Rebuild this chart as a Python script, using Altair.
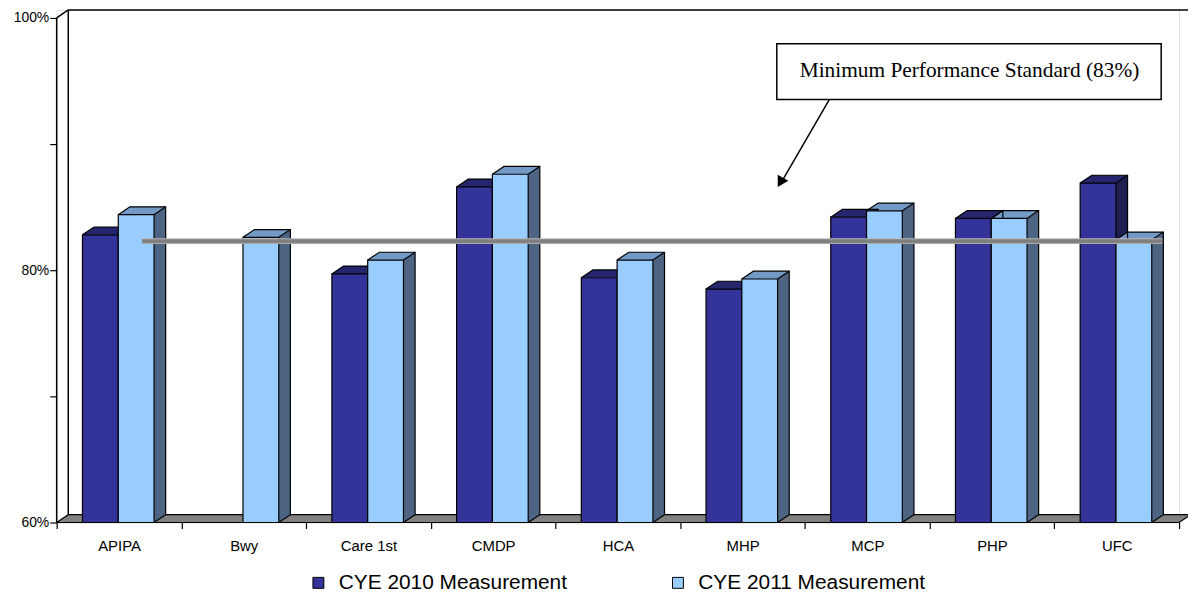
import json
import altair as alt
import pandas as pd

# ---------------- data ----------------
categories = ["APIPA", "Bwy", "Care 1st", "CMDP", "HCA", "MHP", "MCP", "PHP", "UFC"]
series_names = ["CYE 2010 Measurement", "CYE 2011 Measurement"]
cye2010 = [82.8, None, 79.7, 86.6, 79.4, 78.5, 84.2, 84.1, 86.9]
cye2011 = [84.4, 82.6, 80.8, 87.6, 80.8, 79.3, 84.7, 84.1, 82.4]
standard_label = "Minimum Performance Standard (83%)"
standard_level = 82.3
standard_span = [0.685, 8.865]
y_ticks = [60, 70, 80, 90, 100]

# ---------------- layout / style constants ----------------
Y_MIN, Y_MAX = 60, 100
DX, DY = 0.093, 0.62          # 3D depth in category units / percent units
BAR_START, BAR_W = 0.207, 0.287

front_colors = ["#333399", "#99CCFF"]
top_colors = ["#26266F", "#7399C6"]
side_colors = ["#1E1E50", "#4D6482"]

FONT = "Liberation Sans"

# ---------------- geometry tables built from the data ----------------
fronts, sides, tops, outlines = [], [], [], []
for i, c in enumerate(categories):
    for s, vals in enumerate([cye2010, cye2011]):
        v = vals[i]
        if v is None:
            continue
        x0 = i + BAR_START + s * BAR_W
        x1 = x0 + BAR_W
        bid = f"{c}-{s}"
        fronts.append(dict(bar=bid, series=series_names[s], s=s, x0=x0, x1=x1, v=v, base=Y_MIN))
        sides.append(dict(bar=bid, s=s, x=x1, y=v, y2=Y_MIN, k=0))
        sides.append(dict(bar=bid, s=s, x=x1 + DX, y=v + DY, y2=Y_MIN + DY, k=1))
        tops.append(dict(bar=bid, s=s, y=v, x=x0, x2=x1, k=0))
        tops.append(dict(bar=bid, s=s, y=v + DY, x=x0 + DX, x2=x1 + DX, k=1))
        # outer outline of the top and side faces
        path_a = [(x0, v), (x0 + DX, v + DY), (x1 + DX, v + DY),
                  (x1 + DX, Y_MIN + DY), (x1, Y_MIN)]
        path_b = [(x1, v), (x1 + DX, v + DY)]
        for name, path in (("a", path_a), ("b", path_b)):
            for k, (px, py) in enumerate(path):
                outlines.append(dict(path=f"{bid}-{name}", s=s, x=px, y=py, k=k))

fronts = pd.DataFrame(fronts)
sides = pd.DataFrame(sides)
tops = pd.DataFrame(tops)
outlines = pd.DataFrame(outlines)

n = len(categories)
floor = pd.DataFrame([
    dict(y=Y_MIN, x=0, x2=n, k=0),
    dict(y=Y_MIN + DY, x=DX, x2=n + DX, k=1),
])
floor_outline = pd.DataFrame([
    dict(x=0, y=Y_MIN, k=0), dict(x=DX, y=Y_MIN + DY, k=1),
    dict(x=n + DX, y=Y_MIN + DY, k=2), dict(x=n, y=Y_MIN, k=3), dict(x=0, y=Y_MIN, k=4),
])
walls = pd.DataFrame([
    dict(x=0, x2=0, y=Y_MIN, y2=Y_MAX),                       # front-left edge
    dict(x=DX, x2=DX, y=Y_MIN + DY, y2=Y_MAX + DY),           # back-wall left edge
    dict(x=0, x2=DX, y=Y_MAX, y2=Y_MAX + DY),                 # top diagonal
    dict(x=DX, x2=n + DX, y=Y_MAX + DY, y2=Y_MAX + DY),       # back-wall top edge
])
std = pd.DataFrame([dict(x=standard_span[0], x2=standard_span[1], y=standard_level)])

# ---------------- scales / axes ----------------
xs = alt.Scale(domain=[0, n], nice=False, zero=False)
ys = alt.Scale(domain=[Y_MIN, Y_MAX + DY], nice=False, zero=False)

x_vals = sorted([float(i) for i in range(n + 1)] + [i + 0.5 for i in range(n)])
x_axis = alt.Axis(
    values=x_vals,
    labelExpr="(datum.value % 1 == 0) ? '' : " + json.dumps(categories) + "[floor(datum.value)]",
    tickOpacity={"condition": {"test": "datum.value % 1 != 0", "value": 0}, "value": 1},
    title=None, domain=False, grid=False, tickSize=6, tickColor="black", tickWidth=1.2,
    labelFont=FONT, labelFontSize=15, labelColor="black", labelPadding=10,
    labelOverlap=False, labelFlush=False,
)
y_axis = alt.Axis(
    values=y_ticks,
    labelExpr="datum.value % 20 == 0 ? datum.value + '%' : ''",
    title=None, domain=False, grid=False, tickSize=7, tickColor="black", tickWidth=1.2,
    labelFont=FONT, labelFontSize=14, labelColor="black", labelPadding=1,
    labelOverlap=False, labelFlush=False,
)

def X(f):
    return alt.X(f, scale=xs, axis=x_axis)

def Y(f):
    return alt.Y(f, scale=ys, axis=y_axis)

# ---------------- layers ----------------
floor_c = alt.Chart(floor).mark_area(
    orient="horizontal", color="#808080", opacity=1
).encode(y=Y("y:Q"), x=X("x:Q"), x2="x2:Q")

floor_line = alt.Chart(floor_outline).mark_line(color="black", strokeWidth=1.2).encode(
    x=X("x:Q"), y=Y("y:Q"), order="k:Q"
)

walls_c = alt.Chart(walls).mark_rule(color="black", strokeWidth=1.5).encode(
    x=X("x:Q"), x2="x2:Q", y=Y("y:Q"), y2="y2:Q"
)

face_layers = []
for s in range(2):
    face_layers.append(
        alt.Chart(sides).transform_filter(alt.datum.s == s).mark_area(
            orient="vertical", color=side_colors[s], opacity=1
        ).encode(x=X("x:Q"), y=Y("y:Q"), y2="y2:Q", detail="bar:N")
    )
    face_layers.append(
        alt.Chart(tops).transform_filter(alt.datum.s == s).mark_area(
            orient="horizontal", color=top_colors[s], opacity=1
        ).encode(y=Y("y:Q"), x=X("x:Q"), x2="x2:Q", detail="bar:N")
    )

outline_c = alt.Chart(outlines).mark_line(color="black", strokeWidth=1.2).encode(
    x=X("x:Q"), y=Y("y:Q"), detail="path:N", order="k:Q"
)

fronts_c = alt.Chart(fronts).mark_rect(stroke="black", strokeWidth=1.2, opacity=1).encode(
    x=X("x0:Q"), x2="x1:Q", y=Y("v:Q"), y2="base:Q",
    color=alt.Color(
        "series:N",
        scale=alt.Scale(domain=series_names, range=front_colors),
        legend=alt.Legend(
            title=None, orient="none", direction="horizontal",
            legendX=253, legendY=566, columnPadding=101,
            symbolType="square", symbolSize=121, symbolStrokeColor="black",
            symbolStrokeWidth=1, symbolOpacity=1, labelFont=FONT, labelFontSize=21,
            labelColor="black", labelOffset=10, labelLimit=400,
        ),
    ),
)

std_edge = alt.Chart(std).mark_rule(color="#B8B8B8", strokeWidth=6).encode(
    x=X("x:Q"), x2="x2:Q", y=Y("y:Q")
)
std_c = alt.Chart(std).mark_rule(color="#808080", strokeWidth=4).encode(
    x=X("x:Q"), x2="x2:Q", y=Y("y:Q")
)

one = pd.DataFrame({"a": [0]})
box = alt.Chart(one).mark_rect(fill="white", stroke="black", strokeWidth=1.5).encode(
    x=alt.value(725), x2=alt.value(1112), y=alt.value(34), y2=alt.value(90)
)
box_text = alt.Chart(one).mark_text(
    text=standard_label, font="Liberation Serif", fontSize=21.5, color="black",
    align="center", baseline="middle"
).encode(x=alt.value(919), y=alt.value(61))

arrow_line = alt.Chart(one).mark_rule(color="black", strokeWidth=1.5).encode(
    x=alt.value(778), y=alt.value(90), x2=alt.value(731), y2=alt.value(171)
)
arrow_head = alt.Chart(one).mark_point(
    shape="triangle", filled=True, color="black", size=150, angle=210, opacity=1
).encode(x=alt.value(729.5), y=alt.value(172))

chart = alt.layer(
    floor_c, floor_line, walls_c, *face_layers, outline_c, fronts_c, std_edge, std_c,
    box, box_text, arrow_line, arrow_head,
).properties(
    width=1130, height=516,
    autosize=alt.AutoSizeParams(type="none"),
    padding={"left": 49, "top": 0, "right": 9, "bottom": 74},
).configure_view(stroke=None).configure(background="white")

chart.save("out.html", embed_options={"renderer": "svg", "actions": False})
